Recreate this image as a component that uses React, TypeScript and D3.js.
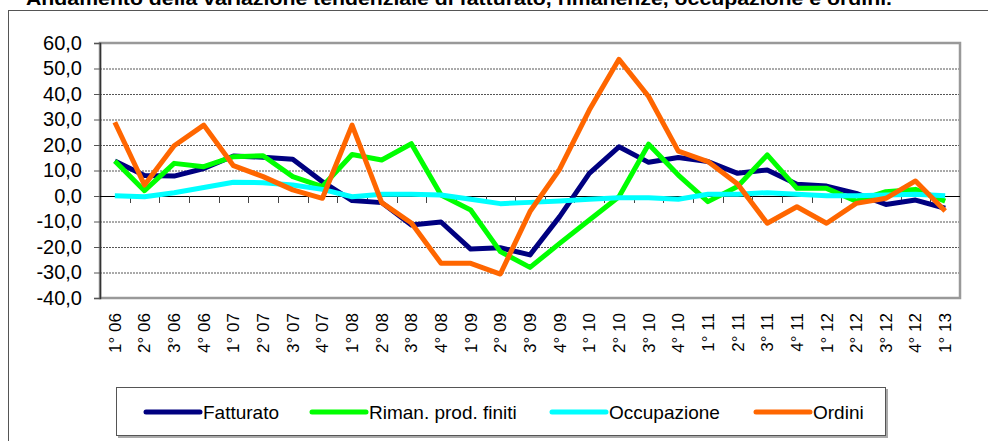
import React, { useEffect, useRef } from "react";
import * as d3 from "d3";

const titolo =
  "Andamento della variazione tendenziale di fatturato, rimanenze, occupazione e ordini.";

const trimestri = [
  "1° 06", "2° 06", "3° 06", "4° 06",
  "1° 07", "2° 07", "3° 07", "4° 07",
  "1° 08", "2° 08", "3° 08", "4° 08",
  "1° 09", "2° 09", "3° 09", "4° 09",
  "1° 10", "2° 10", "3° 10", "4° 10",
  "1° 11", "2° 11", "3° 11", "4° 11",
  "1° 12", "2° 12", "3° 12", "4° 12",
  "1° 13",
];

const fatturato = [
  13.7, 8.0, 7.8, 10.8, 15.7, 15.2, 14.4, 5.6, -1.8, -2.6, -11.4, -10.2, -20.8,
  -20.3, -23.1, -8.1, 8.9, 19.3, 13.2, 15.1, 13.5, 8.9, 10.2, 4.6, 3.9, 1.0,
  -3.3, -1.6, -4.8,
];
const rimanenze = [
  13.7, 2.1, 12.8, 11.5, 15.4, 15.8, 7.6, 3.7, 16.3, 14.1, 20.5, 0.4, -5.5,
  -21.8, -28.0, -18.6, -9.4, -0.3, 20.3, 8.2, -2.2, 3.7, 16.1, 3.0, 3.0, -2.0,
  1.7, 2.6, -2.0,
];
const occupazione = [
  0.1, -0.3, 1.3, 3.3, 5.4, 5.2, 4.3, 2.6, -0.3, 0.7, 0.7, 0.4, -1.3, -3.0,
  -2.5, -2.0, -1.3, -0.7, -0.7, -1.3, 0.7, 0.7, 1.3, 0.7, 0.1, 0.1, 0.4, 0.7,
  0.1,
];
const ordini = [
  28.9, 4.3, 19.7, 27.8, 11.9, 7.6, 2.4, -0.9, 27.8, -2.6, -10.6, -26.4, -26.4,
  -30.6, -6.1, 10.5, 33.7, 53.6, 39.0, 17.6, 13.5, 4.7, -10.7, -4.2, -10.7,
  -2.9, -0.9, 5.9, -5.9,
];

const serieNomi = ["Fatturato", "Riman. prod. finiti", "Occupazione", "Ordini"];
const serieColori = ["#000080", "#00ff00", "#00ffff", "#ff6600"];
const serieValori = [fatturato, rimanenze, occupazione, ordini];

const yTicks = [-40, -30, -20, -10, 0, 10, 20, 30, 40, 50, 60];

export default function App() {
  const svgRef = useRef<SVGSVGElement>(null);

  const width = 988;
  const height = 441;
  const plot = { left: 100, right: 960, top: 43, bottom: 298 };
  const font = "Arial, 'Liberation Sans', sans-serif";

  useEffect(() => {
    const svg = d3.select(svgRef.current);
    svg.selectAll("*").remove();

    const x = d3
      .scaleBand()
      .domain(trimestri)
      .range([plot.left, plot.right]);
    const y = d3.scaleLinear().domain([-40, 60]).range([plot.bottom, plot.top]);
    const cx = (d: string) => (x(d) as number) + x.bandwidth() / 2;
    const fmt = (v: number) => v.toFixed(1).replace(".", ",");

    // cornice esterna
    svg
      .append("rect")
      .attr("x", 8.5)
      .attr("y", 10.5)
      .attr("width", 1100)
      .attr("height", 600)
      .attr("fill", "white")
      .attr("stroke", "#555")
      .attr("stroke-width", 1);

    // titolo (tagliato in alto come nell'originale)
    svg
      .append("text")
      .attr("x", 26)
      .attr("y", 5)
      .attr("font-family", font)
      .attr("font-weight", "bold")
      .attr("font-size", 19)
      .attr("textLength", 866)
      .attr("lengthAdjust", "spacingAndGlyphs")
      .text(titolo);

    // griglia
    svg
      .append("g")
      .selectAll("line")
      .data(yTicks.filter((t) => t !== 0 && t !== 60 && t !== -40))
      .join("line")
      .attr("x1", plot.left)
      .attr("x2", plot.right)
      .attr("y1", (d) => y(d) + 0.5)
      .attr("y2", (d) => y(d) + 0.5)
      .attr("stroke", "#555")
      .attr("stroke-width", 1)
      .attr("stroke-dasharray", "2,1");

    // bordo area del grafico
    svg
      .append("rect")
      .attr("x", plot.left)
      .attr("y", plot.top)
      .attr("width", plot.right - plot.left)
      .attr("height", plot.bottom - plot.top)
      .attr("fill", "none")
      .attr("stroke", "#999")
      .attr("stroke-width", 2.5);

    // asse y
    const yAxis = d3
      .axisLeft(y)
      .tickValues(yTicks)
      .tickSize(6)
      .tickFormat((d) => fmt(d as number));
    const gy = svg
      .append("g")
      .attr("transform", `translate(${plot.left},0)`)
      .call(yAxis);
    gy.select(".domain").attr("stroke", "#333").attr("stroke-width", 1.5);
    gy.selectAll(".tick line").attr("stroke", "#555");
    gy.selectAll(".tick text")
      .attr("x", -18)
      .attr("font-family", font)
      .attr("font-size", 20)
      .attr("fill", "#000");

    // linea dello zero con tacche
    svg
      .append("line")
      .attr("x1", plot.left)
      .attr("x2", plot.right)
      .attr("y1", y(0) + 0.5)
      .attr("y2", y(0) + 0.5)
      .attr("stroke", "#000")
      .attr("stroke-width", 1);
    svg
      .append("g")
      .selectAll("line")
      .data(trimestri.slice(1))
      .join("line")
      .attr("x1", (d) => Math.round(x(d) as number) + 0.5)
      .attr("x2", (d) => Math.round(x(d) as number) + 0.5)
      .attr("y1", y(0))
      .attr("y2", y(0) + 7)
      .attr("stroke", "#444")
      .attr("stroke-width", 1);

    // etichette asse x
    svg
      .append("g")
      .selectAll("text")
      .data(trimestri)
      .join("text")
      .attr("transform", (d) => `translate(${cx(d)},313) rotate(-90)`)
      .attr("text-anchor", "end")
      .attr("dy", "0.35em")
      .attr("font-family", font)
      .attr("font-size", 17)
      .text((d) => d);

    // serie
    const line = d3
      .line<number>()
      .x((_, i) => cx(trimestri[i]))
      .y((d) => y(d));

    serieValori.forEach((valori, k) => {
      svg
        .append("path")
        .attr("d", line(valori))
        .attr("fill", "none")
        .attr("stroke", serieColori[k])
        .attr("stroke-width", 5)
        .attr("stroke-linejoin", "round");
    });

    // legenda
    const leg = svg.append("g");
    leg
      .append("rect")
      .attr("x", 118)
      .attr("y", 389)
      .attr("width", 770)
      .attr("height", 49)
      .attr("fill", "#aaa");
    leg
      .append("rect")
      .attr("x", 116.5)
      .attr("y", 387.5)
      .attr("width", 769)
      .attr("height", 48)
      .attr("fill", "white")
      .attr("stroke", "#555")
      .attr("stroke-width", 1);

    const legX = [146, 312, 552, 756];
    serieNomi.forEach((nome, k) => {
      leg
        .append("line")
        .attr("x1", legX[k])
        .attr("x2", legX[k] + 54)
        .attr("y1", 412)
        .attr("y2", 412)
        .attr("stroke", serieColori[k])
        .attr("stroke-width", 5)
        .attr("stroke-linecap", "round");
      leg
        .append("text")
        .attr("x", legX[k] + 57)
        .attr("y", 412)
        .attr("dy", "0.35em")
        .attr("font-family", font)
        .attr("font-size", 19)
        .text(nome);
    });
  }, []);

  return (
    <div style={{ position: "absolute", left: 0, top: 0 }}>
      <svg ref={svgRef} width={width} height={height}></svg>
    </div>
  );
}
